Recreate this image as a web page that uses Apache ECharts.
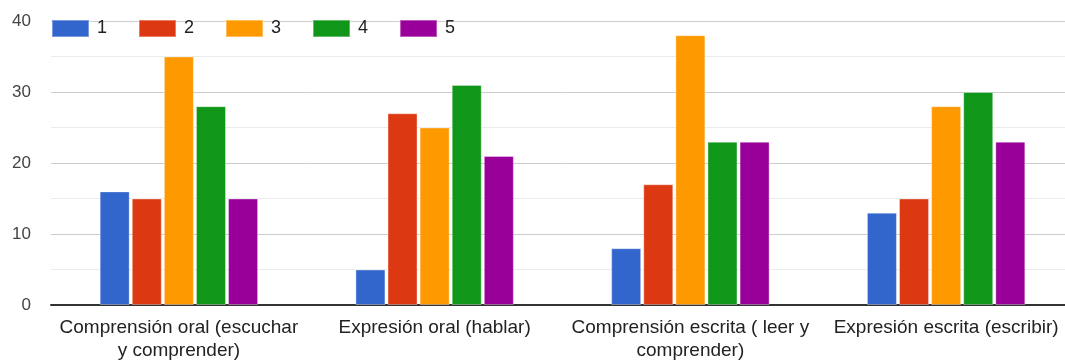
<!DOCTYPE html>
<html><head><meta charset="utf-8">
<script src="https://cdn.jsdelivr.net/npm/echarts@6/dist/echarts.min.js"></script>
<style>html,body{margin:0;padding:0;background:#fff;overflow:hidden}#c{width:1074px;height:360px}</style>
</head><body><div id="c"></div>
<script>
const categories = ["Comprensión oral (escuchar\ny comprender)", "Expresión oral (hablar)", "Comprensión escrita ( leer y\ncomprender)", "Expresión escrita (escribir)"];
const seriesNames = ["1", "2", "3", "4", "5"];
const s1 = [16, 5, 8, 13];
const s2 = [15, 27, 17, 15];
const s3 = [35, 25, 38, 28];
const s4 = [28, 31, 23, 30];
const s5 = [15, 21, 23, 23];
const colors = ["#3366cc", "#dc3912", "#ff9900", "#109618", "#990099"];
const yTicks = [0, 10, 20, 30, 40];

const all = [s1, s2, s3, s4, s5];
const chart = echarts.init(document.getElementById('c'));
chart.setOption({
  animation: false,
  color: colors,
  textStyle: {fontFamily: 'Liberation Sans, Arial, sans-serif'},
  legend: {
    left: 51, top: 19, padding: 0, itemWidth: 37, itemHeight: 17, itemGap: 31,
    icon: 'rect',
    textStyle: {fontSize: 18, color: '#222', padding: [0, 0, 0, 3]},
    data: seriesNames
  },
  grid: {left: 51, right: 0, top: 21, bottom: 55, containLabel: false, outerBoundsMode: 'none'},
  xAxis: {
    type: 'category', data: categories,
    axisTick: {show: false},
    axisLine: {lineStyle: {color: '#333', width: 2}},
    axisLabel: {fontSize: 19, color: '#222', margin: 11, lineHeight: 23, interval: 0}
  },
  yAxis: {
    type: 'value', min: yTicks[0], max: yTicks[yTicks.length - 1], interval: 10,
    axisLabel: {fontSize: 17, color: '#444', margin: 20},
    splitLine: {lineStyle: {color: '#cccccc', width: 1}},
    minorTick: {show: false, splitNumber: 2},
    minorSplitLine: {show: true, lineStyle: {color: '#ebebeb', width: 1}}
  },
  series: all.map((d, i) => ({
    name: seriesNames[i], type: 'bar', data: d,
    barWidth: 30, barGap: '7%',
    itemStyle: {borderColor: 'rgba(255,255,255,0.35)', borderWidth: 1}
  }))
});
</script></body></html>
